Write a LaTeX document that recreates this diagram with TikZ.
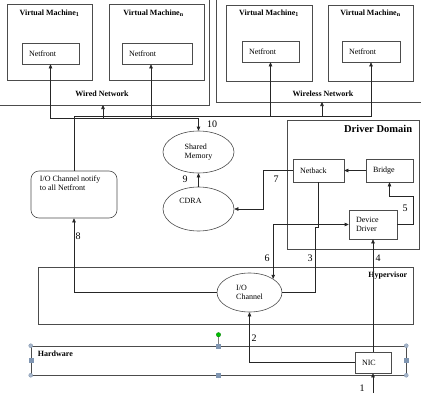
\documentclass[tikz,border=0pt]{standalone}
\usepackage{fontspec}
\setmainfont{Liberation Serif}
\usetikzlibrary{arrows.meta,positioning,shapes.geometric}
\definecolor{handleblue}{RGB}{128,150,178}

\begin{document}
\begin{tikzpicture}[
    x=1pt, y=-1pt,
    every node/.style={color=black, font=\fontsize{8}{9}\selectfont},
    frame/.style={draw=black!70, line width=0.6pt},
    box/.style={frame, rectangle, inner sep=0pt},
    cell/.style={box, inner xsep=7pt, text width=#1, align=left},
    blob/.style={frame, ellipse, inner sep=0pt, align=left},
    txt/.style={inner sep=0pt, align=left},
    head/.style={inner sep=0pt, font=\fontsize{8}{9}\selectfont\bfseries},
    num/.style={inner sep=0pt, font=\fontsize{10}{11}\selectfont},
    link/.style={line width=0.6pt, draw=black!85},
    flow/.style={link, ->},
    both/.style={link, <->},
    >={Triangle[length=4pt, width=3.5pt]},
    handle/.style={fill=handleblue!70, draw=handleblue, line width=0.3pt}
    ]
    \useasboundingbox (0,0) rectangle (421,407);
    % Networks
    \draw[frame] (0,105) -- (209,105) -- (209,0);
    \draw[frame] (216,0) -- (216,102) -- (421,102);
    \node[head] (wired) at (102,94) {Wired Network};
    \node[head] (wireless) at (323,94) {Wireless Network};
    \coordinate (wiredNet) at (103,105);
    \coordinate (wirelessNet) at (322,102);
    % Virtual machines
    \node[box, minimum width=85pt, minimum height=76pt] (vmA) at (49.5,42) {};
    \node[box, minimum width=95pt, minimum height=76pt] (vmB) at (156.5,42) {};
    \node[box, minimum width=86pt, minimum height=76pt] (wvmA) at (269,43) {};
    \node[box, minimum width=85pt, minimum height=76pt] (wvmB) at (370.5,43) {};
    \node[head, below=6pt of vmA.north] (vmAname) {Virtual Machine\textsubscript{1}};
    \node[head, below=6pt of vmB.north, xshift=-3pt] (vmBname) {Virtual Machine\textsubscript{n}};
    \node[head, below=5pt of wvmA.north] (wvmAname) {Virtual Machine\textsubscript{1}};
    \node[head, below=5pt of wvmB.north] (wvmBname) {Virtual Machine\textsubscript{n}};
    \node[cell=43pt, minimum height=21pt] (nfA) at (50.5,53.5) {Netfront};
    \node[cell=56pt, minimum height=21pt] (nfB) at (157,53.5) {Netfront};
    \node[cell=43pt, minimum height=21pt] (wnfA) at (270.5,51.5) {Netfront};
    \node[cell=44pt, minimum height=21pt] (wnfB) at (371,51.5) {Netfront};
    % Middle part
    \node[box, rounded corners=8pt, minimum width=86pt, minimum height=47pt] (notify) at (74,194.5) {};
    \node[txt, below right=5pt and 9pt of notify.north west] (notifyText) {I/O Channel notify\\to all Netfront};
    \node[blob, minimum width=71pt, minimum height=42pt] (shm) at (198.5,152) {Shared\\Memory};
    \node[blob, minimum width=71pt, minimum height=44pt] (cdra) at (198.5,209) {};
    \node[txt, below=11pt of cdra.north, xshift=-8pt] (cdraText) {CDRA};
    % Driver domain
    \node[box, minimum width=132pt, minimum height=129pt] (dd) at (353,184.5) {};
    \node[head, font=\fontsize{10.5}{12}\selectfont\bfseries, below left=5pt and 7pt of dd.north east] (ddName) {Driver Domain};
    \node[cell=37pt, minimum height=23pt] (netback) at (318.5,170.5) {Netback};
    \node[cell=33pt, minimum height=23pt] (bridge) at (389.5,170.5) {Bridge};
    \node[cell=34pt, minimum height=29pt] (ddrv) at (373,224.5) {Device\\Driver};
    % Hypervisor
    \node[box, minimum width=375pt, minimum height=57pt] (hyp) at (225.5,295.5) {};
    \node[head, below left=5pt and 6pt of hyp.north east] (hypName) {Hypervisor};
    \node[blob, minimum width=65pt, minimum height=39pt] (ioch) at (249.5,292.5) {I/O\\Channel};
    % Hardware
    \node[box, minimum width=375pt, minimum height=29pt] (hw) at (218.5,360.5) {};
    \node[head, below right=5pt and 7pt of hw.north west] (hwName) {Hardware};
    \node[cell=22pt, minimum height=21pt] (nic) at (373,362.5) {NIC};
    \coordinate (wire) at (373,393);
    % selection handles of the hardware frame
    \draw[black!50, line width=0.4pt] (hw.north) -- ([yshift=11pt]hw.north);
    \foreach \c in {north west, north east, south west, south east}
        \filldraw[handle] (hw.\c) circle (2pt);
    \foreach \c in {north, south, west, east}
        \filldraw[handle, fill=handleblue] ([shift={(-2pt,-2pt)}]hw.\c) rectangle ++(4pt,4pt);
    \filldraw[fill=green!75!black, draw=green!50!black, line width=0.3pt] ([yshift=11pt]hw.north) circle (2.2pt);
    % Lines
    \coordinate (wjoin) at (103,118);
    \coordinate (wljoin) at (322,116);
    \coordinate (j7) at (263,170.5);
    \coordinate (j5) at (413,196);
    \coordinate (j3) at (315,227);
    \draw[flow] (wjoin) -| (nfA);
    \draw[flow] (wjoin) -| ([xshift=-6pt]nfB.south);
    \draw[flow] (wjoin) -- (wiredNet);
    \draw[flow] (wjoin) -| (shm);
    \draw[link] (notify.north) |- (wljoin);
    \draw[flow] (wljoin) -| (wnfA);
    \draw[flow] (wljoin) -| (wnfB);
    \draw[flow] (wljoin) -- (wirelessNet);
    \draw[flow] (cdra) -- (shm);
    \draw[flow] (netback.west) -- (j7) |- (cdra.east);
    \draw[flow] (bridge) -- (netback);
    \draw[flow] (ddrv.east) -| (j5) -| (bridge);
    \draw[link] (netback.south) |- (j3) |- (ioch.east);
    \draw[both] (ddrv.west) -| (ioch.30);
    \draw[flow] (nic) -- (ddrv);
    \draw[flow] (wire) -- (nic);
    \draw[flow] (nic.west) -| (ioch);
    \draw[flow] (ioch.west) -| (notify);
    % Step numbers
    \node[num] (s1) at (362,388) {1};
    \node[num] (s2) at (254,338) {2};
    \node[num] (s3) at (310,258) {3};
    \node[num] (s4) at (378,258) {4};
    \node[num] (s5) at (405,208) {5};
    \node[num] (s6) at (267,258) {6};
    \node[num] (s7) at (276,179) {7};
    \node[num] (s8) at (78,236) {8};
    \node[num] (s9) at (185,179) {9};
    \node[num] (s10) at (212,124) {10};
\end{tikzpicture}
\end{document}
